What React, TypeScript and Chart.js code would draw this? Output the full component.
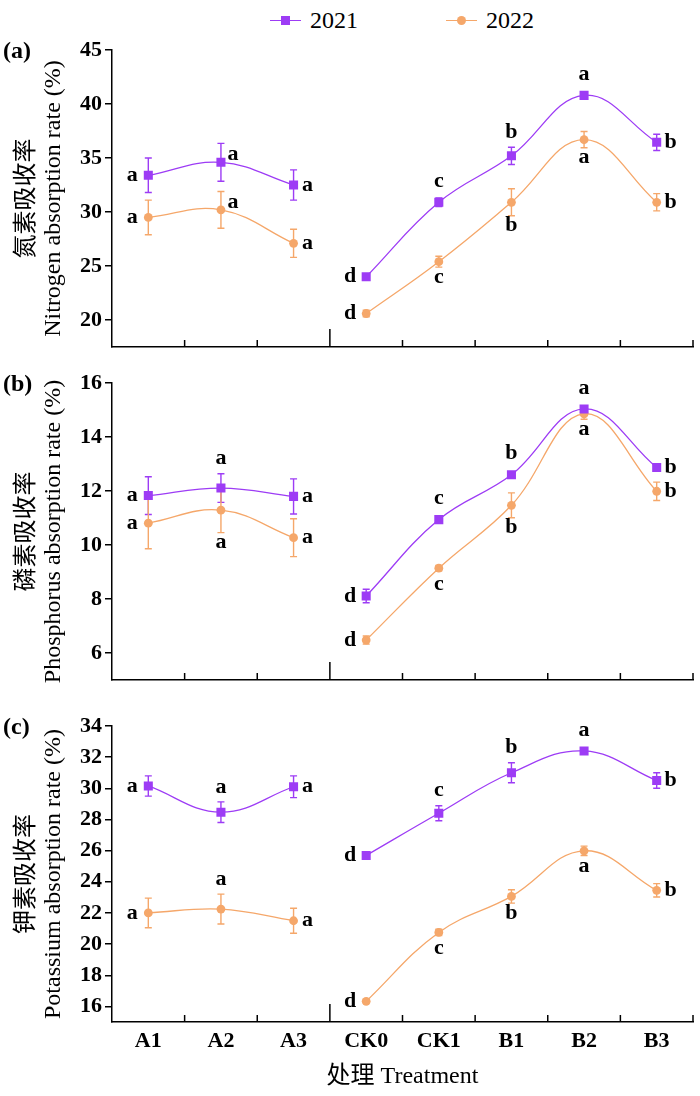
import React, { useEffect, useRef } from 'react';
import { Chart, registerables } from 'chart.js';

Chart.register(...registerables);

const treatments = ['A1', 'A2', 'A3', 'CK0', 'CK1', 'B1', 'B2', 'B3'];
const years = ['2021', '2022'];

// (a) nitrogen
const n2021 = [33.4, 34.6, 32.5, 24.0, 30.9, 35.2, 40.8, 36.45];
const n2021Err = [1.6, 1.75, 1.4, 0.2, 0.4, 0.8, 0.3, 0.75];
const n2021Sig = ['a', 'a', 'a', 'd', 'c', 'b', 'a', 'b'];
const n2021Pos = ['l', 'rt', 'r', 'l', 't', 't', 't', 'r'];
const n2022 = [29.5, 30.2, 27.1, 20.6, 25.4, 30.9, 36.7, 30.9];
const n2022Err = [1.6, 1.7, 1.3, 0.3, 0.5, 1.25, 0.75, 0.8];
const n2022Sig = ['a', 'a', 'a', 'd', 'c', 'b', 'a', 'b'];
const n2022Pos = ['l', 'rt', 'r', 'l', 'b', 'b', 'b', 'r'];
const nTicks = [20, 25, 30, 35, 40, 45];

// (b) phosphorus
const p2021 = [11.83, 12.11, 11.8, 8.11, 10.94, 12.6, 15.04, 12.87];
const p2021Err = [0.7, 0.53, 0.65, 0.25, 0.1, 0.1, 0.1, 0.1];
const p2021Sig = ['a', 'a', 'a', 'd', 'c', 'b', 'a', 'b'];
const p2021Pos = ['l', 't', 'r', 'l', 't', 't', 't', 'r'];
const p2022 = [10.81, 11.29, 10.27, 6.48, 9.14, 11.47, 14.86, 11.99];
const p2022Err = [0.95, 0.83, 0.7, 0.15, 0.1, 0.46, 0.2, 0.34];
const p2022Sig = ['a', 'a', 'a', 'd', 'c', 'b', 'a', 'b'];
const p2022Pos = ['l', 'b', 'r', 'l', 'b', 'b', 'b', 'r'];
const pTicks = [6, 8, 10, 12, 14, 16];

// (c) potassium
const k2021 = [30.15, 28.47, 30.1, 25.69, 28.4, 31.0, 32.4, 30.5];
const k2021Err = [0.65, 0.66, 0.7, 0.1, 0.48, 0.64, 0.2, 0.5];
const k2021Sig = ['a', 'a', 'a', 'd', 'c', 'b', 'a', 'b'];
const k2021Pos = ['l', 't', 'r', 'l', 't', 't', 't', 'r'];
const k2022 = [22.0, 22.25, 21.5, 16.33, 20.75, 23.06, 25.99, 23.45];
const k2022Err = [0.95, 0.96, 0.8, 0.1, 0.2, 0.43, 0.3, 0.43];
const k2022Sig = ['a', 'a', 'a', 'd', 'c', 'b', 'a', 'b'];
const k2022Pos = ['l', 't', 'r', 'l', 'b', 'b', 'b', 'r'];
const kTicks = [16, 18, 20, 22, 24, 26, 28, 30, 32, 34];

// first 3 treatments are drawn as a separate group
const groups = [[0, 3], [3, 8]];

const PURPLE = '#9d3cf5';
const ORANGE = '#f5a76a';
const FONT = "'Liberation Serif', 'Times New Roman', 'Noto Sans CJK SC', serif";

Chart.defaults.font.family = FONT;
Chart.defaults.color = '#000';

interface Series {
  values: number[];
  err: number[];
  sig: string[];
  pos: string[];
  color: string;
  marker: 'rect' | 'circle';
}

const marksPlugin = (series: Series[]) => ({
  id: 'marks',
  beforeDatasetsDraw(chart: any) {
    const { ctx, scales: { x, y } } = chart;
    ctx.save();
    ctx.lineWidth = 1.4;
    series.forEach((s) => {
      ctx.strokeStyle = s.color;
      s.values.forEach((v, i) => {
        const px = x.getPixelForValue(i);
        const hi = y.getPixelForValue(v + s.err[i]);
        const lo = y.getPixelForValue(v - s.err[i]);
        ctx.beginPath();
        ctx.moveTo(px, hi);
        ctx.lineTo(px, lo);
        ctx.moveTo(px - 3.5, hi);
        ctx.lineTo(px + 3.5, hi);
        ctx.moveTo(px - 3.5, lo);
        ctx.lineTo(px + 3.5, lo);
        ctx.stroke();
      });
    });
    ctx.restore();
  },
  afterDatasetsDraw(chart: any) {
    const { ctx, chartArea, scales: { x, y } } = chart;
    ctx.save();
    ctx.fillStyle = '#000';
    ctx.font = `bold 22px ${FONT}`;
    ctx.textAlign = 'center';
    ctx.textBaseline = 'middle';
    series.forEach((s) => {
      s.values.forEach((v, i) => {
        const px = x.getPixelForValue(i);
        const py = y.getPixelForValue(v);
        const hi = y.getPixelForValue(v + s.err[i]);
        const lo = y.getPixelForValue(v - s.err[i]);
        let tx = px;
        let ty = py;
        switch (s.pos[i]) {
          case 'l': tx = px - 16; break;
          case 'r': tx = px + 14; break;
          case 'rt': tx = px + 12; ty = py - 8; break;
          case 't': ty = Math.min(hi, py - 6) - 15; break;
          case 'b': ty = Math.max(lo, py + 6) + 10; break;
        }
        ctx.fillText(s.sig[i], tx, ty);
      });
    });

    // inward ticks at category boundaries, taller one between the two groups
    ctx.strokeStyle = '#000';
    ctx.lineWidth = 1.5;
    const bottom = chartArea.bottom;
    for (let i = 0; i < treatments.length; i++) {
      const bx = i < treatments.length - 1
        ? (x.getPixelForValue(i) + x.getPixelForValue(i + 1)) / 2
        : chartArea.right;
      const len = i === groups[0][1] - 1 ? 18 : 7;
      ctx.beginPath();
      ctx.moveTo(bx, bottom);
      ctx.lineTo(bx, bottom - len);
      ctx.stroke();
    }
    ctx.restore();
  },
});

interface PanelProps {
  top: number;
  height: number;
  padTop: number;
  xHeight: number;
  min: number;
  max: number;
  ticks: number[];
  title: string[];
  series: Series[];
  showX: boolean;
}

function Panel({ top, height, padTop, xHeight, min, max, ticks, title, series, showX }: PanelProps) {
  const canvasRef = useRef<HTMLCanvasElement>(null);
  const chartInstance = useRef<Chart | null>(null);

  useEffect(() => {
    if (!canvasRef.current) return;
    const ctx = canvasRef.current.getContext('2d');
    if (!ctx) return;

    const datasets = series.flatMap((s) =>
      groups.map(([a, b]) => ({
        data: s.values.map((v, i) => (i >= a && i < b ? v : null)),
        borderColor: s.color,
        backgroundColor: s.color,
        borderWidth: 1.3,
        tension: 0.4,
        spanGaps: false,
        pointStyle: s.marker,
        pointRadius: s.marker === 'rect' ? 6.4 : 4.4,
        pointBorderWidth: 0,
      }))
    );

    chartInstance.current = new Chart(ctx, {
      type: 'line',
      data: { labels: treatments, datasets },
      options: {
        responsive: true,
        maintainAspectRatio: false,
        animation: false,
        events: [],
        layout: { padding: { top: padTop, right: 7, bottom: 0, left: 0 } },
        plugins: { legend: { display: false }, tooltip: { enabled: false } },
        scales: {
          x: {
            type: 'category',
            offset: true,
            grid: { display: false },
            border: { display: true, color: '#000', width: 1.5 },
            ticks: {
              display: showX,
              color: '#000',
              padding: -2,
              font: { size: 22, weight: 'bold' },
            },
            title: {
              display: showX,
              text: '处理 Treatment',
              color: '#000',
              font: { size: 24 },
              padding: { top: 0, bottom: 5 },
            },
            afterFit: (scale: any) => {
              scale.height = xHeight;
            },
          },
          y: {
            min,
            max,
            grid: { drawOnChartArea: false, color: '#000', lineWidth: 1.5, tickLength: 7 },
            border: { display: true, color: '#000', width: 1.5 },
            ticks: {
              color: '#000',
              padding: 3,
              font: { size: 22, weight: 'bold' },
            },
            title: {
              display: true,
              text: title,
              color: '#000',
              font: { size: 24, lineHeight: 1.1 },
              padding: { top: 14, bottom: 0 },
            },
            afterBuildTicks: (scale: any) => {
              scale.ticks = ticks.map((v) => ({ value: v }));
            },
            afterFit: (scale: any) => {
              scale.width = 112;
            },
          },
        },
      },
      plugins: [marksPlugin(series)],
    });

    return () => {
      chartInstance.current?.destroy();
    };
  }, []);

  return (
    <div style={{ position: 'absolute', left: 0, top, width: 700, height }}>
      <canvas ref={canvasRef} />
    </div>
  );
}

function LegendItem({ left, color, marker, label }: { left: number; color: string; marker: 'rect' | 'circle'; label: string }) {
  return (
    <div style={{ position: 'absolute', left, top: 0, height: 40, width: 120 }}>
      <div style={{ position: 'absolute', left: 0, top: 19.5, width: 31, height: 1.5, background: color }} />
      <div
        style={{
          position: 'absolute',
          left: 11,
          top: 16,
          width: 9,
          height: 9,
          background: color,
          borderRadius: marker === 'circle' ? '50%' : 0,
        }}
      />
      <span
        style={{
          position: 'absolute',
          left: 40,
          top: 8,
          fontFamily: FONT,
          fontSize: 24,
          lineHeight: '24px',
          color: '#000',
          whiteSpace: 'nowrap',
        }}
      >
        {label}
      </span>
    </div>
  );
}

const panelLabel = (text: string, y: number) => (
  <div
    style={{
      position: 'absolute',
      left: 3,
      top: y - 14,
      fontFamily: FONT,
      fontSize: 24,
      fontWeight: 'bold',
      lineHeight: '28px',
      color: '#000',
    }}
  >
    {text}
  </div>
);

export default function App() {
  return (
    <div style={{ position: 'absolute', left: 0, top: 0, width: 700, height: 1096, background: '#fff', overflow: 'hidden' }}>
      <LegendItem left={270} color={PURPLE} marker="rect" label={years[0]} />
      <LegendItem left={446} color={ORANGE} marker="circle" label={years[1]} />
      <Panel
        top={0}
        height={370}
        padTop={50}
        xHeight={23}
        min={17.5}
        max={45}
        ticks={nTicks}
        title={['氮素吸收率', 'Nitrogen absorption rate (%)']}
        showX={false}
        series={[
          { values: n2021, err: n2021Err, sig: n2021Sig, pos: n2021Pos, color: PURPLE, marker: 'rect' },
          { values: n2022, err: n2022Err, sig: n2022Sig, pos: n2022Pos, color: ORANGE, marker: 'circle' },
        ]}
      />
      <Panel
        top={360}
        height={340}
        padTop={23}
        xHeight={20}
        min={5}
        max={16}
        ticks={pTicks}
        title={['磷素吸收率', 'Phosphorus absorption rate (%)']}
        showX={false}
        series={[
          { values: p2021, err: p2021Err, sig: p2021Sig, pos: p2021Pos, color: PURPLE, marker: 'rect' },
          { values: p2022, err: p2022Err, sig: p2022Sig, pos: p2022Pos, color: ORANGE, marker: 'circle' },
        ]}
      />
      <Panel
        top={700}
        height={396}
        padTop={26}
        xHeight={74}
        min={15}
        max={34}
        ticks={kTicks}
        title={['钾素吸收率', 'Potassium absorption rate (%)']}
        showX={true}
        series={[
          { values: k2021, err: k2021Err, sig: k2021Sig, pos: k2021Pos, color: PURPLE, marker: 'rect' },
          { values: k2022, err: k2022Err, sig: k2022Sig, pos: k2022Pos, color: ORANGE, marker: 'circle' },
        ]}
      />
      {panelLabel('(a)', 50)}
      {panelLabel('(b)', 383)}
      {panelLabel('(c)', 726)}
    </div>
  );
}
